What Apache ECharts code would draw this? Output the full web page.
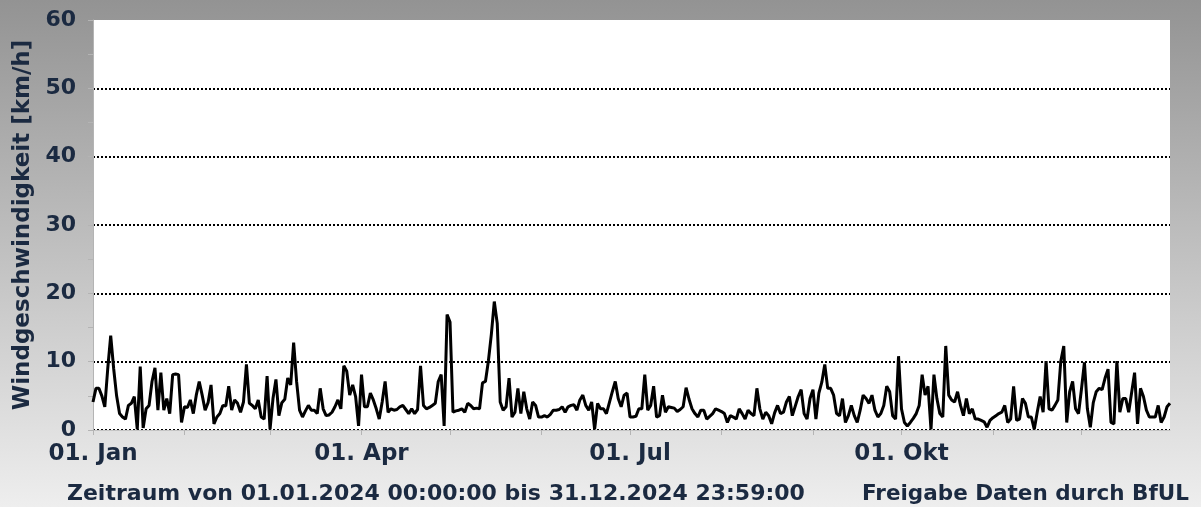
<!DOCTYPE html>
<html>
<head>
<meta charset="utf-8">
<script src="https://cdn.jsdelivr.net/npm/echarts@6/dist/echarts.min.js"></script>
<style>
html, body { margin: 0; padding: 0; }
#chartLineBox { width: 1201px; height: 507px; }
</style>
</head>
<body>
<div id="chartLineBox"></div>
<script>
// Tagesmittel Windgeschwindigkeit 2024 (km/h)
var jan = [4.1, 6.1, 6.1, 5.0, 3.4, 9.0, 13.8, 9.0, 5.0, 2.4, 1.9, 1.6, 3.6, 3.9, 4.9, 0.1, 9.3, 0.3, 3.1, 3.6, 7.1, 9.1, 2.9, 8.4, 2.9, 4.6, 2.4, 8.1, 8.2, 8.1, 1.1];
var feb = [3.4, 3.3, 4.4, 2.4, 5.1, 7.1, 5.1, 2.9, 4.0, 6.6, 0.9, 1.9, 2.4, 3.6, 3.5, 6.4, 2.9, 4.4, 3.9, 2.6, 4.1, 9.6, 3.9, 3.6, 3.1, 4.4, 1.9, 1.6, 7.9];
var mar = [0.1, 4.6, 7.4, 2.1, 4.0, 4.5, 7.6, 6.6, 12.8, 7.1, 2.9, 1.9, 2.8, 3.6, 2.9, 2.9, 2.4, 6.1, 3.1, 2.1, 2.2, 2.6, 3.4, 4.4, 3.1, 9.4, 8.6, 5.1, 6.6, 4.9, 0.6];
var apr = [8.1, 3.4, 3.4, 5.4, 4.4, 3.1, 1.6, 4.1, 7.1, 2.6, 3.1, 2.9, 3.0, 3.4, 3.6, 3.0, 2.4, 3.1, 2.4, 3.0, 9.4, 3.6, 3.1, 3.3, 3.6, 3.9, 7.1, 8.1, 0.6, 16.9];
var may = [15.8, 2.6, 2.8, 2.9, 3.1, 2.6, 3.9, 3.6, 3.1, 3.2, 3.1, 6.9, 7.1, 10.1, 14.0, 18.8, 15.6, 4.1, 2.9, 3.4, 7.6, 1.9, 2.6, 6.1, 2.4, 5.6, 3.1, 1.6, 4.1, 3.6, 1.9];
var jun = [1.9, 2.1, 1.9, 2.3, 2.9, 2.9, 3.0, 3.4, 2.6, 3.4, 3.6, 3.7, 2.9, 4.4, 5.1, 3.6, 2.9, 4.1, 0.1, 3.9, 3.1, 3.1, 2.4, 4.0, 5.6, 7.1, 4.6, 3.4, 5.1, 5.4];
var jul = [1.9, 1.9, 2.0, 3.1, 3.1, 8.1, 2.9, 3.6, 6.4, 1.9, 2.1, 5.1, 2.6, 3.4, 3.3, 3.2, 2.7, 3.0, 3.4, 6.2, 4.5, 3.1, 2.4, 1.9, 2.9, 2.9, 1.6, 2.0, 2.4, 3.1, 2.9];
var aug = [2.7, 2.4, 1.1, 2.1, 1.9, 1.6, 3.1, 2.4, 1.6, 2.9, 2.4, 2.1, 6.1, 3.1, 1.6, 2.6, 2.1, 0.9, 2.5, 3.6, 2.4, 2.6, 4.1, 4.9, 2.1, 3.5, 4.9, 5.9, 2.4, 1.6, 4.6];
var sep = [5.9, 1.6, 5.4, 7.0, 9.6, 6.1, 6.1, 5.1, 2.4, 2.1, 4.6, 1.1, 2.1, 3.6, 2.1, 1.1, 2.9, 5.1, 4.6, 3.9, 5.1, 2.9, 1.9, 2.4, 3.6, 6.4, 5.6, 2.1, 1.6, 10.8];
var okt = [3.1, 1.1, 0.6, 1.1, 1.7, 2.4, 3.6, 8.1, 5.1, 6.4, 0.1, 8.1, 4.6, 2.4, 1.9, 12.3, 5.1, 4.4, 4.1, 5.6, 3.6, 2.1, 4.6, 2.4, 3.1, 1.6, 1.6, 1.4, 1.2, 0.4, 1.4];
var nov = [1.8, 2.1, 2.4, 2.6, 3.6, 1.1, 1.6, 6.4, 1.4, 1.6, 4.6, 3.9, 1.9, 1.9, 0.1, 2.6, 4.9, 2.6, 10.1, 3.1, 2.9, 3.6, 4.4, 10.1, 12.3, 1.1, 5.6, 7.1, 3.1, 2.4];
var dez = [6.0, 9.9, 3.1, 0.4, 4.0, 5.6, 6.1, 5.9, 7.6, 8.9, 1.1, 0.9, 10.1, 2.6, 4.6, 4.6, 2.6, 5.5, 8.4, 0.9, 6.1, 4.9, 2.9, 1.9, 1.9, 1.9, 3.6, 1.1, 1.9, 3.4, 3.9];

var monthNames = ['Jan', 'Feb', 'Mär', 'Apr', 'Mai', 'Jun', 'Jul', 'Aug', 'Sep', 'Okt', 'Nov', 'Dez'];
var labelMonths = ['Jan', 'Apr', 'Jul', 'Okt'];
var yTicks = [0, 10, 20, 30, 40, 50, 60];

var months = [jan, feb, mar, apr, may, jun, jul, aug, sep, okt, nov, dez];
var xdata = [];
var sdata = [];
for (var m = 0; m < months.length; m++) {
    for (var d = 0; d < months[m].length; d++) {
        xdata.push((d < 9 ? '0' : '') + (d + 1) + '. ' + monthNames[m]);
        sdata.push(months[m][d]);
    }
}

var textColor = '#1b2a41';
var fontName = 'DejaVu Sans';

var chartLine = echarts.init(document.getElementById('chartLineBox'));
var option = {
    animation: false,
    backgroundColor: new echarts.graphic.LinearGradient(0, 0, 0, 1, [
        { offset: 0, color: '#939393' },
        { offset: 1, color: '#eeeeee' }
    ]),
    title: [
        {
            text: 'Zeitraum von 01.01.2024 00:00:00 bis 31.12.2024 23:59:00',
            left: 62,
            top: 478,
            textStyle: { color: textColor, fontSize: 22, fontWeight: 'bold', fontFamily: fontName }
        },
        {
            text: 'Freigabe Daten durch BfUL',
            left: 857,
            top: 478,
            textStyle: { color: textColor, fontSize: 21.5, fontWeight: 'bold', fontFamily: fontName }
        }
    ],
    grid: {
        left: 93,
        right: 31,
        top: 20,
        bottom: 77,
        containLabel: false,
        outerBoundsMode: 'none',
        show: true,
        backgroundColor: '#ffffff',
        borderWidth: 0
    },
    xAxis: {
        type: 'category',
        boundaryGap: false,
        data: xdata,
        axisLine: { lineStyle: { color: '#c4c4c4', width: 1 } },
        axisTick: {
            show: true,
            length: 5,
            interval: function (i, v) { return v.indexOf('01. ') === 0; },
            lineStyle: { color: '#b4b4b4' }
        },
        axisLabel: {
            margin: 13,
            color: textColor,
            fontSize: 23,
            fontWeight: 'bold',
            fontFamily: fontName,
            interval: function (i, v) {
                return v.indexOf('01. ') === 0 && labelMonths.indexOf(v.slice(4)) >= 0;
            }
        },
        splitLine: { show: false }
    },
    yAxis: {
        type: 'value',
        min: yTicks[0],
        max: yTicks[yTicks.length - 1],
        interval: 10,
        name: 'Windgeschwindigkeit [km/h]',
        nameLocation: 'middle',
        nameGap: 58,
        nameTextStyle: { color: textColor, fontSize: 23, fontWeight: 'bold', fontFamily: fontName },
        axisLine: { show: true, lineStyle: { color: '#b4b4b4' } },
        axisTick: { show: true, length: 5, lineStyle: { color: '#b4b4b4' } },
        minorTick: { show: true, splitNumber: 2, length: 5, lineStyle: { color: '#b4b4b4' } },
        axisLabel: {
            margin: 17,
            color: textColor,
            fontSize: 22,
            fontWeight: 'bold',
            fontFamily: fontName
        },
        splitLine: {
            show: true,
            // keine Linie bei 60
            lineStyle: {
                color: ['#000', '#000', '#000', '#000', '#000', '#000', 'rgba(0,0,0,0)'],
                width: 2,
                type: [2, 2]
            }
        }
    },
    series: [
        {
            name: 'Wind',
            type: 'line',
            data: sdata,
            showSymbol: false,
            symbol: 'none',
            lineStyle: { color: '#000000', width: 3 }
        }
    ]
};
chartLine.setOption(option);
</script>
</body>
</html>
